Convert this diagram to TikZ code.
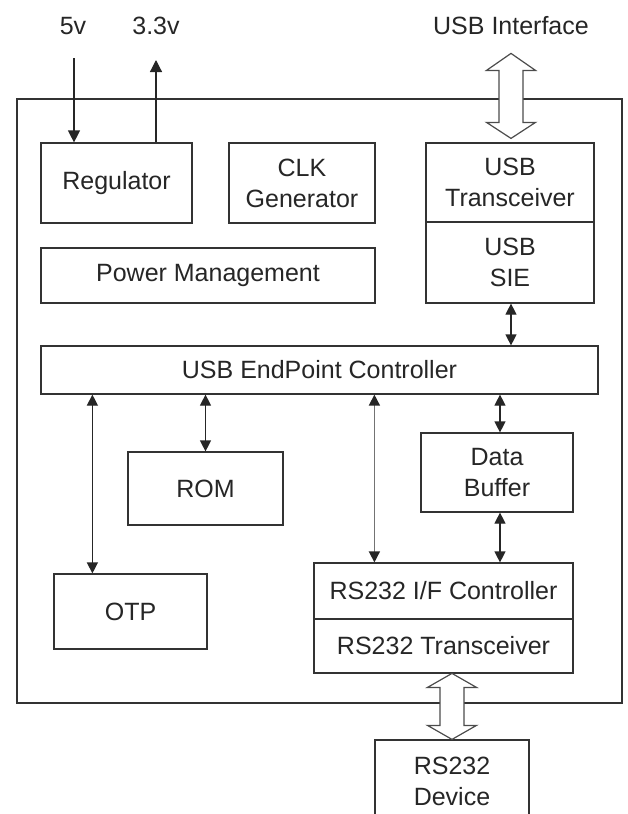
\documentclass[tikz,border=0pt]{standalone}
\usepackage{fontspec}
\setmainfont{Liberation Sans}
\usetikzlibrary{calc, arrows.meta}

\begin{document}
\begin{tikzpicture}[
		x=1pt, y=-1pt,
		box/.style={draw=black!80, line width=1.2pt, fill=white, inner sep=0pt, align=center,
			text=black!85, font=\fontsize{25}{31}\selectfont},
		lbl/.style={inner sep=0pt, text=black!85, font=\fontsize{25}{31}\selectfont},
		arr/.style={line width=1.2pt, draw=black!85, -{Triangle[width=12pt,length=12pt]}},
		dbl/.style={line width=1.2pt, draw=black!85,
			{Triangle[width=11pt,length=11pt,color=black!85]}-{Triangle[width=11pt,length=11pt,color=black!85]}},
		gdbl/.style={dbl, draw=black!55, line width=1.5pt},
		hollow/.style={draw=black!70, line width=1.2pt, fill=white, line join=miter}]
		\useasboundingbox (0,0) rectangle (628,814);
		\node[box, minimum width=605, minimum height=604] (chip) at (319.5,401) {};
		\node[lbl] (v5)  at (73,26)  {5v};
		\node[lbl] (v33) at (156,26) {3.3v};
		\node[lbl] (usbif) at (511,26) {USB Interface};
		\coordinate (v5in)   at (74,58);
		\coordinate (v33out) at (156,60);
		\node[box, minimum width=151, minimum height=80] (reg)    at (116.5,183) {Regulator};
		\node[box, minimum width=146, minimum height=80] (clk)    at (302,183)   {CLK\\Generator};
		\node[box, minimum width=168, minimum height=79] (usbtx)  at (510,182.5) {USB\\Transceiver};
		\node[box, minimum width=168, minimum height=81] (usbsie) at (510,262.5) {USB\\SIE};
		\node[box, minimum width=334, minimum height=55] (pwr)    at (208,275.5) {Power Management};
		\node[box, minimum width=557, minimum height=48] (ep)     at (319.5,370) {USB EndPoint Controller};
		\node[box, minimum width=155, minimum height=73] (rom)    at (205.5,488.5) {ROM};
		\node[box, minimum width=152, minimum height=79] (buf)    at (497,472.5) {Data\\Buffer};
		\node[box, minimum width=153, minimum height=75] (otp)    at (130.5,611.5) {OTP};
		\node[box, minimum width=259, minimum height=56] (rsif)   at (443.5,591) {RS232 I/F Controller};
		\node[box, minimum width=259, minimum height=54] (rstx)   at (443.5,646) {RS232 Transceiver};
		\begin{scope}
			\clip (0,0) rectangle (628,814);
			\node[box, minimum width=154, minimum height=82] (dev) at (452,781) {RS232\\Device};
		\end{scope}
		% power in / out
		\draw[arr] (v5in) -- (v5in |- reg.north);
		\draw[arr] (v33out |- reg.north) -- (v33out);
		% hollow bus arrows
		\draw[hollow] ($(usbtx.north)+(1,-4)$) -- ++(-24.5,-16) -- ++(12.5,0) -- ++(0,-52)
			-- ++(-12.5,0) -- ++(24.5,-17) -- ++(24.5,17) -- ++(-12.5,0) -- ++(0,52)
			-- ++(12.5,0) -- cycle;
		\draw[hollow] ($(dev.north)+(0,0)$) -- ++(-24.5,-14) -- ++(12.5,0) -- ++(0,-38)
			-- ++(-12.5,0) -- ++(24.5,-14) -- ++(24.5,14) -- ++(-12.5,0) -- ++(0,38)
			-- ++(12.5,0) -- cycle;
		% internal buses
		\draw[dbl] ([xshift=1pt]usbsie.south) -- ([xshift=1pt]usbsie.south |- ep.north);
		\draw[dbl] ([xshift=3pt]buf.north |- ep.south) -- ([xshift=3pt]buf.north);
		\draw[dbl] ([xshift=3pt]buf.south) -- ([xshift=3pt]buf.south |- rsif.north);
		\draw[dbl] (rom.north |- ep.south) -- (rom.north);
		\draw[dbl] ([xshift=39pt]otp.north west |- ep.south) -- ([xshift=39pt]otp.north west);
		\draw[gdbl] ([xshift=61pt]rsif.north west |- ep.south) -- ([xshift=61pt]rsif.north west);
\end{tikzpicture}
\end{document}
